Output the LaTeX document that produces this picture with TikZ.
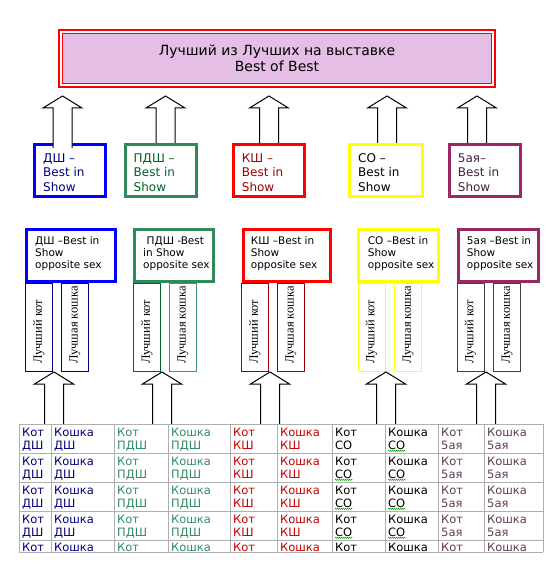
\documentclass[tikz,border=0pt]{standalone}
\usepackage{fontspec}
\setmainfont{DejaVu Sans}
\newfontfamily\serifcyr{Liberation Serif}
\usetikzlibrary{decorations.pathmorphing}
\definecolor{bblue}{RGB}{0,0,255}
\definecolor{tnavy}{RGB}{0,0,128}
\definecolor{bgreen}{RGB}{46,139,87}
\definecolor{tdgreen}{RGB}{0,100,40}
\definecolor{nteal}{RGB}{60,150,120}
\definecolor{bred}{RGB}{255,0,0}
\definecolor{tred}{RGB}{160,0,0}
\definecolor{cred}{RGB}{200,0,0}
\definecolor{byellow}{RGB}{255,255,0}
\definecolor{bpurple}{RGB}{153,40,100}
\definecolor{tpurp}{RGB}{70,35,60}
\definecolor{cpurp}{RGB}{96,60,90}
\definecolor{ndgray}{RGB}{64,64,64}
\definecolor{lav}{RGB}{228,190,228}
\definecolor{tline}{RGB}{175,175,175}
\definecolor{sgreen}{RGB}{51,140,100}
\tikzset{
  titlebox/.style={draw=red, line width=1pt, fill=lav, outer sep=0pt,
    minimum width=429pt, minimum height=50pt, align=center,
    font=\fontsize{14}{16}\selectfont},
  topbox/.style={draw=#1, line width=3pt, fill=white, outer sep=0pt,
    minimum width=71pt, minimum height=52pt},
  toptext/.style={text=#1, anchor=west, align=left, inner sep=0pt,
    font=\fontsize{12}{14.5}\selectfont},
  secbox/.style={draw=#1, line width=3pt, fill=white, outer sep=0pt,
    minimum height=52pt},
  sectext/.style={anchor=west, align=left, inner sep=0pt,
    font=\fontsize{10.5}{12}\selectfont},
  narrowbox/.style={draw=#1, line width=1pt, outer sep=0pt,
    minimum width=27pt, minimum height=88pt},
  vtext/.style={rotate=90, anchor=west, inner sep=0pt,
    font=\serifcyr\fontsize{12.5}{13}\selectfont},
  blockarrow/.style={draw=black, line width=1pt, fill=white, line join=miter},
  tabtext/.style={anchor=base west, inner sep=0pt, font=\fontsize{11.5}{13}\selectfont},
  gridline/.style={draw=tline, line width=1pt},
  spell/.style={draw=green!60!black, line width=0.5pt,
    decorate, decoration={snake, amplitude=0.6pt, segment length=2pt}}
}
% #1 centre x, #2 tip y, #3 bottom y
\newcommand\blockup[3]{%
  \draw[blockarrow] (#1-9.5,#3) -- (#1-9.5,#2+12) -- (#1-19.5,#2+12) -- (#1,#2)
    -- (#1+19.5,#2+12) -- (#1+9.5,#2+12) -- (#1+9.5,#3);}
\begin{document}
\begin{tikzpicture}[x=1pt,y=-1pt]
\useasboundingbox[fill=white] (0,0) rectangle (557,577);

% title
\node[titlebox] (title) at (277,58.5) {Лучший из Лучших на выставке\\Best of Best};
\draw[red, line width=2pt] ([xshift=-3.5pt,yshift=3.5pt]title.north west)
  rectangle ([xshift=3.5pt,yshift=-3.5pt]title.south east);

% first-level boxes
\node[topbox=bblue]   (b1) at (70,170.5) {};
\node[topbox=bgreen]  (b2) at (160.5,170.5) {};
\node[topbox=bred]    (b3) at (268.5,170.5) {};
\node[topbox=byellow, minimum width=73pt] (b4) at (385.5,170.5) {};
\node[topbox=bpurple] (b5) at (484.5,170.5) {};
\node[toptext=tnavy]  (tb1) at (43,172.5)    {ДШ –\\Best in\\Show};
\node[toptext=tdgreen](tb2) at (133.5,172.5) {ПДШ –\\Best in\\Show};
\node[toptext=tred]   (tb3) at (241.7,172.5) {КШ –\\Best in\\Show};
\node[toptext=black]  (tb4) at (358,172.5)   {СО –\\Best in\\Show};
\node[toptext=tpurp]  (tb5) at (457.7,172.5) {5ая–\\Best in\\Show};

% arrows to title
\blockup{62.5}{96}{148}
\blockup{165.5}{96}{143}
\blockup{269}{96}{143}
\blockup{387}{96}{143}
\blockup{477}{96}{143}

% opposite sex boxes
\node[secbox=bblue,   minimum width=89pt] (s1) at (71,255.5) {};
\node[secbox=bgreen,  minimum width=79pt] (s2) at (174,255.5) {};
\node[secbox=bred,    minimum width=87pt] (s3) at (287,255.5) {};
\node[secbox=byellow, minimum width=80pt] (s4) at (398.5,255.5) {};
\node[secbox=bpurple, minimum width=80pt] (s5) at (498.5,255.5) {};
\node[sectext] (ts1) at (35,253.5)    {ДШ –Best in\\Show\\opposite sex};
\node[sectext] (ts2) at (143,253.5)   {\hspace*{3.5pt}ПДШ -Best\\in Show\\opposite sex};
\node[sectext] (ts3) at (250.7,253.5) {КШ –Best in\\Show\\opposite sex};
\node[sectext] (ts4) at (367.7,253.5) {СО –Best in\\Show\\opposite sex};
\node[sectext] (ts5) at (466.7,253.5) {5ая –Best in\\Show\\opposite sex};

% narrow boxes
\node[narrowbox=tnavy]   (n1a) at (39,327) {};
\node[narrowbox=tnavy]   (n1b) at (75,327) {};
\node[narrowbox=tdgreen] (n2a) at (147,327) {};
\node[narrowbox=nteal]   (n2b) at (183,327) {};
\node[narrowbox=tred]    (n3a) at (255,327) {};
\node[narrowbox=tred]    (n3b) at (291,327) {};
\node[narrowbox=byellow] (n4a) at (371.5,327) {};
\node[narrowbox=byellow] (n4b) at (408,327) {};
\node[narrowbox=ndgray]  (n5a) at (470.5,327) {};
\node[narrowbox=ndgray]  (n5b) at (507,327) {};
\foreach \n/\x in {1a/39,2a/147,3a/255,4a/371.5,5a/470.5}
  \node[vtext] (v\n) at (\x,364) {Лучший кот};
\foreach \n/\x in {1b/75,2b/183,3b/291,4b/408,5b/507}
  \node[vtext] (v\n) at (\x,364) {Лучшая кошка};

% arrows from table
\blockup{54}{372}{424}
\blockup{162}{372}{424}
\blockup{270}{372}{424}
\blockup{386}{372}{424}
\blockup{486}{372}{424}

% table grid
\foreach \y in {424,453,482,511,540,552}
  \draw[gridline] (19,\y) -- (543,\y);
\foreach \x in {19,51,114,168,230,277,332,385,438,484,543}
  \draw[gridline] (\x,424) -- (\x,552);

% table text
\foreach \c/\x/\col/\nm/\sub in {1/19/tnavy/Кот/ДШ,2/51/tnavy/Кошка/ДШ,
    3/114/sgreen/Кот/ПДШ,4/168/sgreen/Кошка/ПДШ,5/230/cred/Кот/КШ,
    6/277/cred/Кошка/КШ,7/332/black/Кот/СО,8/385/black/Кошка/СО,
    9/438/cpurp/Кот/5ая,10/484/cpurp/Кошка/5ая}{
  \foreach \r/\y in {1/424,2/453,3/482,4/511}{
    \node[tabtext, text=\col] (c\r-\c) at (\x+3,\y+12) {\nm};
    \node[tabtext, text=\col] (d\r-\c) at (\x+3,\y+25) {\sub};
  }
  \node[tabtext, text=\col] (c5-\c) at (\x+3,551) {\nm};
}
% spell-check underlines
\foreach \r/\c in {2/7,3/7,4/7,1/8,2/8,3/8,4/8}
  \draw[spell] ([yshift=-1.8pt]d\r-\c.base west) -- ([yshift=-1.8pt]d\r-\c.base east);
\end{tikzpicture}
\end{document}
